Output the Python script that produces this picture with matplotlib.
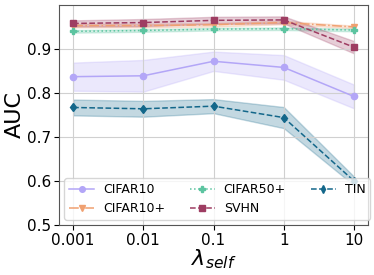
import numpy as np
import matplotlib
matplotlib.use('Agg')
from matplotlib import pyplot as plt

lambdas = ['0.001', '0.01', '0.1', '1', '10']

cifar10 = [0.837, 0.839, 0.872, 0.858, 0.792]
cifar10_std = [0.032, 0.036, 0.022, 0.028, 0.027]
cifar10p = [0.953, 0.953, 0.955, 0.960, 0.950]
cifar10p_std = [0.004, 0.004, 0.004, 0.004, 0.003]
cifar50p = [0.940, 0.942, 0.945, 0.946, 0.943]
cifar50p_std = [0.003, 0.003, 0.003, 0.003, 0.003]
svhn = [0.958, 0.960, 0.965, 0.966, 0.904]
svhn_std = [0.007, 0.008, 0.008, 0.008, 0.014]
tin = [0.767, 0.764, 0.770, 0.744, 0.600]
tin_std = [0.018, 0.018, 0.016, 0.024, 0.010]

series = [
    ('CIFAR10', cifar10, cifar10_std, '#b3a6f7', 'o', '-'),
    ('CIFAR10+', cifar10p, cifar10p_std, '#f0a070', 'v', '-.'),
    ('CIFAR50+', cifar50p, cifar50p_std, '#5cc4a0', 'P', ':'),
    ('SVHN', svhn, svhn_std, '#9e3d62', 's', '--'),
    ('TIN', tin, tin_std, '#13678a', 'd', '--'),
]

fig, ax = plt.subplots(figsize=(3.74, 2.75), dpi=100)
x = np.arange(len(lambdas))
for name, m, s, c, mk, ls in series:
    m = np.array(m)
    s = np.array(s)
    ax.plot(x, m, color=c, marker=mk, linestyle=ls, label=name, markersize=4.5, linewidth=1.1)
    ax.fill_between(x, m - s, m + s, color=c, alpha=0.25)

ax.set_xticks(x)
ax.set_xticklabels(lambdas)
ax.set_ylim(0.5, 1.0)
ax.set_yticks([0.5, 0.6, 0.7, 0.8, 0.9])
ax.tick_params(labelsize=11, pad=2)
ax.grid(True, color='#d0d0d0')
ax.set_ylabel('AUC', fontsize=16, labelpad=2)
ax.set_xlabel(r'$\lambda_{self}$', fontsize=16, labelpad=0)
ax.legend(ncol=3, loc='lower left', fontsize=9, handlelength=2.0, handletextpad=0.7,
          columnspacing=2.0, borderaxespad=0.4, labelspacing=0.45, markerscale=0.9)
for sp in ax.spines.values():
    sp.set_color('#555555')

plt.subplots_adjust(left=0.158, right=0.984, top=0.982, bottom=0.182)
plt.savefig('out.png')
